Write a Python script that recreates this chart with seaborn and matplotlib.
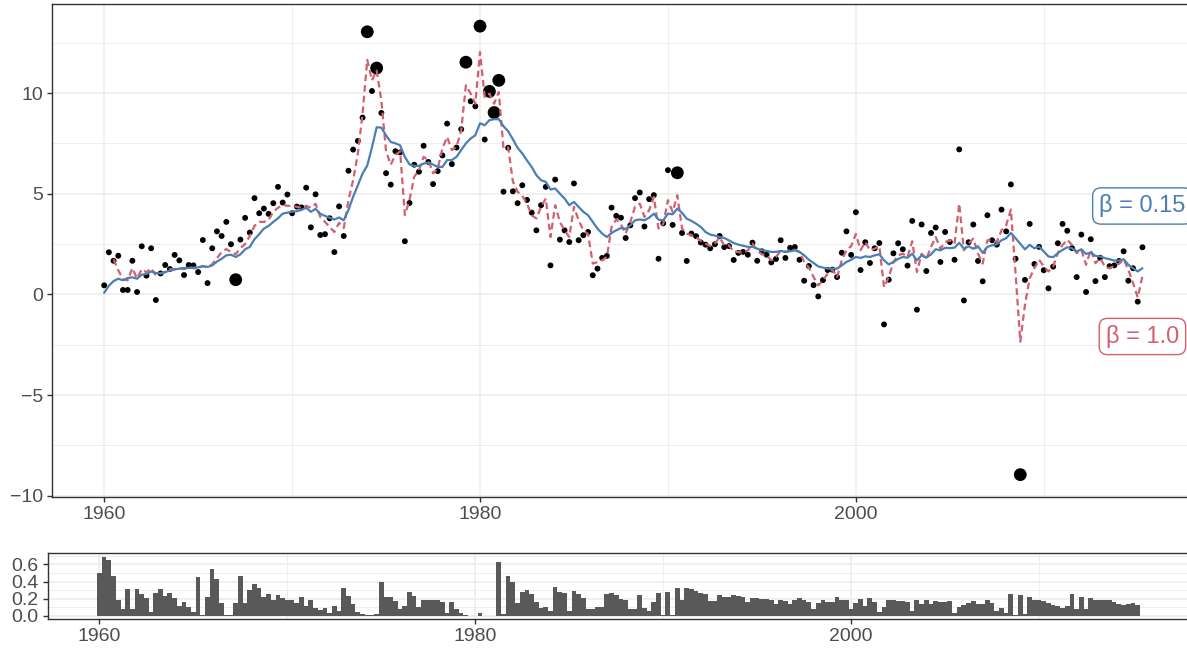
import numpy as np
import pandas as pd
import matplotlib
matplotlib.use("Agg")
import matplotlib.pyplot as plt
import seaborn as sns

# quarterly observations, 1960Q1 .. 2015Q2
quarters = 1960 + 0.25 * np.arange(222)

inflation = [
    0.45, 2.09, 1.67, 1.92, 0.22, 0.22, 1.67, 0.12, 2.39, 0.93,
    2.29, -0.28, 1.04, 1.46, 1.26, 1.96, 1.69, 0.96, 1.46, 1.44,
    1.11, 2.70, 0.56, 2.29, 3.13, 2.90, 3.60, 2.49, 0.73, 2.72,
    3.80, 3.07, 4.78, 4.03, 4.26, 4.00, 4.53, 5.34, 4.56, 4.96,
    4.03, 4.36, 4.32, 5.30, 3.33, 4.97, 2.95, 2.99, 3.78, 2.10,
    4.37, 2.90, 6.14, 7.19, 7.62, 8.78, 13.04, 10.10, 11.24, 9.01,
    6.02, 5.45, 7.11, 7.05, 2.64, 4.54, 6.44, 6.09, 7.38, 6.58,
    5.48, 6.12, 6.90, 8.48, 6.47, 7.29, 8.20, 11.53, 9.59, 9.34,
    13.32, 7.69, 10.08, 9.03, 10.63, 5.10, 7.28, 5.12, 4.53, 5.42,
    4.69, 4.06, 3.18, 4.43, 5.34, 1.44, 5.70, 2.72, 3.18, 2.60,
    5.51, 2.69, 2.94, 3.10, 0.95, 1.28, 1.81, 1.91, 4.31, 3.90,
    3.81, 2.80, 3.43, 4.78, 5.06, 3.37, 4.73, 4.93, 1.77, 3.53,
    6.17, 3.45, 6.04, 3.05, 1.66, 3.02, 2.89, 2.58, 2.47, 2.29,
    2.49, 2.90, 2.35, 2.40, 1.71, 2.06, 2.11, 1.97, 2.57, 1.67,
    2.14, 1.97, 1.59, 1.76, 2.69, 1.81, 2.31, 2.35, 1.72, 0.68,
    1.41, 0.46, -0.10, 0.71, 1.21, 1.23, 0.86, 2.07, 3.13, 1.96,
    4.08, 1.21, 2.59, 1.56, 2.29, 2.55, -1.49, 0.73, 2.04, 2.54,
    2.24, 1.43, 3.65, -0.76, 3.47, 1.16, 3.05, 3.32, 1.61, 3.10,
    2.60, 1.72, 7.20, -0.30, 2.59, 3.47, 1.66, 0.65, 3.93, 2.69,
    2.47, 4.21, 3.13, 5.46, 1.77, -8.95, 0.72, 3.50, 1.51, 2.36,
    1.20, 0.30, 1.38, 2.54, 3.50, 3.16, 2.30, 0.86, 2.97, 0.12,
    2.74, 0.66, 1.82, 0.86, 1.40, 1.44, 1.66, 2.14, 0.68, 1.30,
    -0.36, 2.34,
]

# points flagged as outliers (drawn larger)
outlier_idx = [28, 56, 58, 77, 80, 82, 83, 84, 122, 195]

# filtered level, beta = 0.15
level_015 = [
    0.08, 0.43, 0.66, 0.78, 0.70, 0.81, 0.85, 0.78, 0.98, 1.01,
    1.14, 1.06, 1.04, 1.11, 1.18, 1.24, 1.28, 1.31, 1.31, 1.33,
    1.34, 1.41, 1.36, 1.44, 1.63, 1.77, 1.94, 1.97, 1.86, 1.99,
    2.24, 2.36, 2.74, 2.99, 3.27, 3.40, 3.60, 3.78, 4.01, 4.06,
    4.11, 4.13, 4.20, 4.30, 4.10, 4.25, 4.00, 3.90, 3.80, 3.72,
    3.82, 3.68, 4.20, 4.85, 5.43, 6.00, 6.40, 7.30, 8.30, 8.28,
    7.90, 7.57, 7.50, 7.40, 6.83, 6.45, 6.38, 6.38, 6.50, 6.55,
    6.45, 6.33, 6.33, 6.67, 6.67, 6.83, 7.17, 7.50, 7.74, 7.90,
    8.50, 8.40, 8.65, 8.70, 8.70, 8.35, 8.10, 7.70, 7.28, 7.00,
    6.65, 6.33, 5.92, 5.67, 5.59, 5.21, 5.26, 5.00, 4.76, 4.43,
    4.59, 4.34, 4.10, 3.93, 3.60, 3.27, 3.02, 2.85, 3.05, 3.18,
    3.30, 3.25, 3.43, 3.68, 3.72, 3.68, 3.81, 4.01, 3.71, 3.68,
    4.01, 3.98, 4.26, 4.05, 3.76, 3.65, 3.51, 3.35, 3.10, 2.97,
    2.92, 2.85, 2.80, 2.68, 2.55, 2.47, 2.42, 2.36, 2.36, 2.27,
    2.19, 2.16, 2.11, 2.11, 2.16, 2.11, 2.14, 2.19, 2.11, 1.94,
    1.72, 1.56, 1.39, 1.33, 1.28, 1.28, 1.28, 1.44, 1.61, 1.72,
    1.86, 1.81, 1.89, 1.86, 1.94, 1.99, 1.69, 1.49, 1.61, 1.76,
    1.86, 1.82, 2.02, 1.69, 1.94, 1.82, 1.99, 2.24, 2.19, 2.31,
    2.30, 2.32, 2.56, 2.27, 2.39, 2.27, 2.39, 2.06, 2.36, 2.44,
    2.49, 2.69, 2.79, 3.05, 2.79, 2.51, 2.24, 2.46, 2.29, 2.38,
    2.13, 1.88, 1.85, 2.05, 2.21, 2.34, 2.29, 2.13, 2.24, 2.01,
    2.08, 1.91, 1.88, 1.80, 1.75, 1.68, 1.68, 1.75, 1.47, 1.30,
    1.14, 1.30,
]

# filtered level, beta = 1.0
level_10 = [
    np.nan, np.nan, 1.74, 1.20, 0.75, 0.70, 1.30, 0.80, 1.25, 1.10,
    1.30, 0.95, 1.05, 1.10, 1.25, 1.25, 1.30, 1.25, 1.35, 1.30,
    1.30, 1.40, 1.35, 1.50, 1.80, 2.10, 2.25, 2.10, 2.00, 2.30,
    2.50, 2.90, 3.40, 3.60, 3.60, 3.70, 4.10, 4.30, 4.45, 4.40,
    4.40, 4.35, 4.30, 4.40, 4.30, 4.50, 3.85, 3.60, 3.35, 3.10,
    3.55, 3.30, 4.69, 5.68, 7.00, 8.98, 11.65, 10.63, 11.12, 9.64,
    7.10, 6.44, 6.93, 7.10, 3.94, 4.69, 5.84, 6.17, 6.83, 6.67,
    6.01, 6.25, 7.25, 7.82, 7.17, 7.33, 8.15, 10.38, 9.97, 9.47,
    12.03, 9.80, 9.97, 9.47, 10.05, 7.25, 7.30, 5.60, 5.10, 4.90,
    4.50, 3.93, 3.77, 4.35, 4.76, 2.85, 4.43, 3.60, 3.18, 2.85,
    4.35, 3.68, 3.18, 3.00, 1.53, 1.60, 1.70, 1.86, 3.35, 3.72,
    3.48, 3.02, 3.60, 4.35, 4.51, 3.85, 4.18, 4.84, 3.27, 3.50,
    4.68, 4.10, 4.92, 3.27, 3.02, 2.94, 2.85, 2.65, 2.52, 2.40,
    2.53, 2.84, 2.42, 2.44, 2.11, 2.11, 2.06, 2.19, 2.52, 2.19,
    1.99, 1.94, 1.69, 1.86, 2.16, 2.11, 2.19, 2.22, 2.11, 1.61,
    1.33, 0.86, 0.45, 0.70, 1.03, 1.23, 0.86, 1.69, 2.20, 2.40,
    3.00, 2.20, 2.60, 2.19, 2.27, 2.39, 0.36, 0.86, 1.61, 1.94,
    2.02, 1.86, 2.64, 1.11, 2.02, 1.77, 2.36, 2.85, 2.27, 2.60,
    2.69, 2.52, 4.51, 2.19, 2.52, 2.77, 2.02, 1.53, 2.69, 2.69,
    2.60, 3.18, 3.43, 4.21, 1.03, -2.35, -0.50, 0.80, 1.30, 1.72,
    1.39, 1.14, 1.39, 2.05, 2.46, 2.71, 2.46, 2.05, 2.21, 1.47,
    2.21, 1.55, 1.80, 1.39, 1.30, 1.42, 1.52, 1.75, 1.22, 0.56,
    -0.15, 0.90,
]

# observation weights (lower panel)
weights = [
    0.50, 0.68, 0.65, 0.46, 0.18, 0.08, 0.31, 0.08, 0.31, 0.26,
    0.21, 0.05, 0.27, 0.31, 0.23, 0.27, 0.21, 0.11, 0.16, 0.10,
    0.05, 0.45, 0.01, 0.22, 0.55, 0.43, 0.15, 0.01, 0.01, 0.15,
    0.47, 0.15, 0.30, 0.37, 0.33, 0.22, 0.25, 0.18, 0.24, 0.21,
    0.18, 0.19, 0.15, 0.22, 0.11, 0.19, 0.09, 0.07, 0.09, 0.04,
    0.11, 0.06, 0.32, 0.23, 0.14, 0.05, 0.02, 0.01, 0.01, 0.02,
    0.40, 0.22, 0.22, 0.17, 0.08, 0.12, 0.28, 0.23, 0.10, 0.18,
    0.18, 0.18, 0.19, 0.16, 0.04, 0.16, 0.08, 0.03, 0.01, 0.005,
    0.005, 0.03, 0.005, 0.005, 0.005, 0.63, 0.02, 0.46, 0.40, 0.15,
    0.28, 0.30, 0.25, 0.16, 0.09, 0.10, 0.06, 0.34, 0.28, 0.27,
    0.06, 0.29, 0.25, 0.21, 0.08, 0.08, 0.10, 0.10, 0.25, 0.27,
    0.24, 0.20, 0.19, 0.08, 0.08, 0.24, 0.09, 0.06, 0.16, 0.27,
    0.01, 0.28, 0.01, 0.33, 0.19, 0.33, 0.31, 0.29, 0.27, 0.25,
    0.17, 0.17, 0.24, 0.22, 0.22, 0.24, 0.23, 0.22, 0.16, 0.21,
    0.21, 0.20, 0.20, 0.19, 0.14, 0.19, 0.17, 0.14, 0.18, 0.21,
    0.18, 0.16, 0.08, 0.15, 0.18, 0.16, 0.16, 0.22, 0.19, 0.18,
    0.08, 0.15, 0.20, 0.11, 0.21, 0.16, 0.05, 0.10, 0.19, 0.18,
    0.17, 0.17, 0.16, 0.06, 0.18, 0.14, 0.18, 0.14, 0.17, 0.16,
    0.16, 0.17, 0.04, 0.10, 0.13, 0.15, 0.17, 0.14, 0.14, 0.18,
    0.15, 0.06, 0.09, 0.04, 0.25, 0.01, 0.24, 0.02, 0.22, 0.18,
    0.18, 0.17, 0.15, 0.13, 0.12, 0.09, 0.11, 0.25, 0.08, 0.22,
    0.08, 0.21, 0.18, 0.19, 0.19, 0.18, 0.16, 0.14, 0.13, 0.14,
    0.15, 0.13,
]

BLUE = "#4a7fb5"
RED = "#d2606f"
GRID = "#ebebeb"
FRAME = "#333333"

sns.set_theme(style="white")
plt.rcParams["font.family"] = ["Liberation Sans", "DejaVu Sans"]

df = pd.DataFrame({
    "t": quarters,
    "y": inflation,
    "b015": level_015,
    "b10": level_10,
    "w": weights,
})
df["outlier"] = False
df.loc[outlier_idx, "outlier"] = True

W, H = 1187, 649
fig = plt.figure(figsize=(W / 100, H / 100), dpi=100)
ax = fig.add_axes([52.3 / W, 1 - 497 / H, 1142 / W, 493 / H])
axw = fig.add_axes([47.5 / W, 1 - 618.7 / H, 1142 / W, 65.4 / H])

xlim = (1957.24, 2018.01)


def style_axis(a):
    a.set_xlim(*xlim)
    a.set_xticks([1960, 1980, 2000])
    a.set_xticks([1970, 1990, 2010], minor=True)
    a.grid(which="major", color=GRID, lw=1.1)
    a.grid(which="minor", color=GRID, lw=0.6)
    a.set_axisbelow(True)
    for s in a.spines.values():
        s.set_color(FRAME)
        s.set_linewidth(1.0)
    a.tick_params(which="major", length=3.5, width=1.0, color=FRAME,
                  labelcolor="#4d4d4d", labelsize=14, pad=3,
                  bottom=True, left=True)
    a.tick_params(which="minor", length=0)
    a.set_xlabel("")
    a.set_ylabel("")


# top panel: observations and the two filtered levels
sns.scatterplot(data=df, x="t", y="y", size="outlier",
                sizes={False: 18, True: 85}, color="black",
                linewidth=0, legend=False, ax=ax, zorder=3)
sns.lineplot(data=df.dropna(subset=["b10"]), x="t", y="b10", color=RED,
             lw=1.6, linestyle=(0, (3.0, 1.8)), errorbar=None, ax=ax, zorder=4)
sns.lineplot(data=df, x="t", y="b015", color=BLUE, lw=1.6,
             errorbar=None, ax=ax, zorder=5)

style_axis(ax)
ax.set_ylim(-10.06, 14.42)
ax.set_yticks([-10, -5, 0, 5, 10])
ax.set_yticks([-7.5, -2.5, 2.5, 7.5, 12.5], minor=True)

ax.text(2015.25, 4.39, "β = 0.15", color=BLUE, fontsize=17,
        ha="center", va="center", zorder=6, clip_on=False,
        bbox=dict(boxstyle="round,pad=0.28,rounding_size=0.35",
                  fc="white", ec=BLUE, lw=1.0))
ax.text(2015.25, -2.09, "β = 1.0", color=RED, fontsize=17,
        ha="center", va="center", zorder=6,
        bbox=dict(boxstyle="round,pad=0.28,rounding_size=0.35",
                  fc="white", ec=RED, lw=1.0))

# bottom panel: weights
sns.barplot(data=df, x="t", y="w", native_scale=True, width=1.0,
            color="#595959", saturation=1, linewidth=0,
            errorbar=None, ax=axw)
style_axis(axw)
axw.set_ylim(-0.032, 0.728)
axw.set_yticks([0.0, 0.2, 0.4, 0.6])
axw.set_yticklabels(["0.0", "0.2", "0.4", "0.6"])
axw.set_yticks([0.1, 0.3, 0.5, 0.7], minor=True)
axw.set_xticklabels(["1960", "1980", "2000"])
ax.set_xticklabels(["1960", "1980", "2000"])

fig.savefig("out.png", dpi=100)
